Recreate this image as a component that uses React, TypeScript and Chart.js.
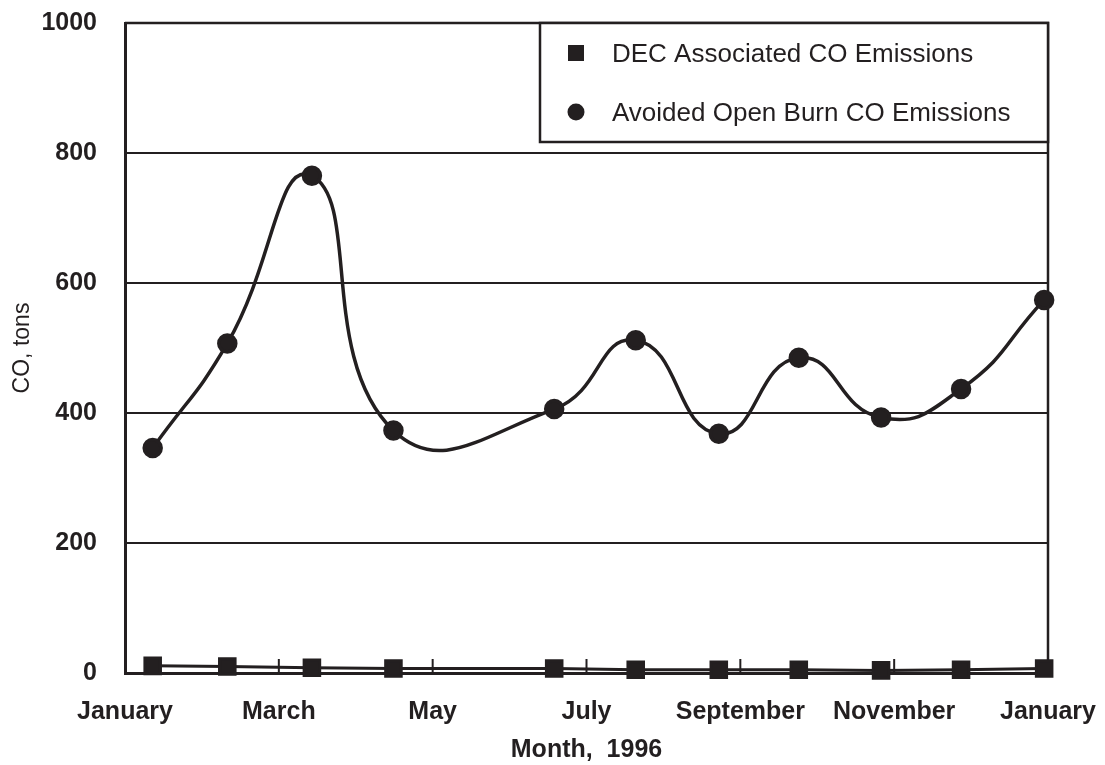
import { useEffect, useRef } from 'react';
import { Chart, registerables } from 'chart.js';

Chart.register(...registerables);

// ---- data ----
const monthTickLabels = ['January', 'March', 'May', 'July', 'September', 'November', 'January'];
const sampleMonths = [0.36, 1.33, 2.43, 3.49, 5.58, 6.64, 7.72, 8.76, 9.83, 10.87, 11.95];
const decEmissions = [11, 10, 8, 7, 7, 5, 5, 5, 4, 5, 7];
const openBurnEmissions = [346, 507, 765, 373, 406, 512, 368, 485, 393, 437, 574];
const seriesNames = ['DEC Associated CO Emissions', 'Avoided Open Burn CO Emissions'];
const xAxisTitle = 'Month,  1996';
const yAxisTitle = 'CO, tons';

const INK = '#231f20';
const FONT = '"Liberation Sans", Arial, Helvetica, sans-serif';

const framePlugin = {
  id: 'frame',
  beforeDatasetsDraw(chart: any) {
    const { ctx, chartArea } = chart;
    ctx.save();
    ctx.strokeStyle = INK;
    ctx.lineWidth = 2.5;
    ctx.beginPath();
    ctx.moveTo(chartArea.left, chartArea.top);
    ctx.lineTo(chartArea.right, chartArea.top);
    ctx.lineTo(chartArea.right, chartArea.bottom);
    ctx.stroke();
    // inward tick marks on x axis
    const xs = chart.scales.x;
    ctx.lineWidth = 2;
    xs.ticks.forEach((t: any) => {
      const px = xs.getPixelForValue(t.value);
      ctx.beginPath();
      ctx.moveTo(px, chartArea.bottom);
      ctx.lineTo(px, chartArea.bottom - 14);
      ctx.stroke();
    });
    ctx.restore();
  },
};

const legendBoxPlugin = {
  id: 'legendBox',
  afterDraw(chart: any) {
    const { ctx, chartArea } = chart;
    const w = 508;
    const h = 119;
    const x0 = chartArea.right - w;
    const y0 = chartArea.top;
    ctx.save();
    ctx.fillStyle = '#ffffff';
    ctx.fillRect(x0, y0, w, h);
    ctx.strokeStyle = INK;
    ctx.lineWidth = 2.5;
    ctx.strokeRect(x0, y0, w, h);
    const rows = [30, 89];
    chart.data.datasets.forEach((ds: any, i: number) => {
      const cy = y0 + rows[i];
      ctx.fillStyle = INK;
      if (ds.pointStyle === 'rect') {
        ctx.fillRect(x0 + 28, cy - 8, 16, 16);
      } else {
        ctx.beginPath();
        ctx.arc(x0 + 36, cy, 8.5, 0, Math.PI * 2);
        ctx.fill();
      }
      ctx.font = `26px ${FONT}`;
      ctx.textBaseline = 'middle';
      ctx.textAlign = 'left';
      ctx.fillText(ds.label, x0 + 72, cy + 2);
    });
    ctx.restore();
  },
};

export default function App() {
  const canvasRef = useRef<HTMLCanvasElement | null>(null);

  useEffect(() => {
    if (!canvasRef.current) return;
    const chart = new Chart(canvasRef.current, {
      type: 'line',
      data: {
        datasets: [
          {
            label: seriesNames[0],
            data: sampleMonths.map((m, i) => ({ x: m, y: decEmissions[i] })),
            borderColor: INK,
            backgroundColor: INK,
            borderWidth: 3,
            pointStyle: 'rect',
            pointRadius: 11,
            pointBackgroundColor: INK,
            pointBorderColor: INK,
            tension: 0,
            clip: false,
          } as any,
          {
            label: seriesNames[1],
            data: sampleMonths.map((m, i) => ({ x: m, y: openBurnEmissions[i] })),
            borderColor: INK,
            backgroundColor: INK,
            borderWidth: 3.5,
            pointStyle: 'circle',
            pointRadius: 8.5,
            pointBackgroundColor: INK,
            pointBorderColor: INK,
            tension: 0.5,
            clip: false,
          } as any,
        ],
      },
      options: {
        responsive: false,
        devicePixelRatio: 1,
        animation: false,
        layout: { autoPadding: false, padding: { left: 0, right: 57, top: 23, bottom: 0 } },
        plugins: {
          legend: { display: false },
          tooltip: { enabled: false },
        },
        scales: {
          x: {
            type: 'linear',
            min: 0,
            max: 12,
            ticks: {
              stepSize: 2,
              autoSkip: false,
              maxRotation: 0,
              padding: 24,
              color: INK,
              font: { family: FONT, size: 25, weight: 'bold' },
              callback: (v: any) => monthTickLabels[Math.round(Number(v) / 2)],
            },
            grid: { display: true, drawOnChartArea: false, drawTicks: false },
            border: { display: true, color: INK, width: 3 },
            title: {
              display: true,
              text: xAxisTitle,
              color: INK,
              font: { family: FONT, size: 25, weight: 'bold' },
              padding: { top: 0, bottom: 0 },
            },
            afterFit: (s: any) => {
              s.height = 92;
              s.paddingLeft = 0;
              s.paddingRight = 0;
            },
          },
          y: {
            type: 'linear',
            min: 0,
            max: 1000,
            ticks: {
              stepSize: 200,
              padding: 28,
              color: INK,
              font: { family: FONT, size: 25, weight: 'bold' },
              callback: (v: any) => String(v),
            },
            grid: { color: INK, lineWidth: 2, drawTicks: false },
            border: { display: true, color: INK, width: 3 },
            title: {
              display: true,
              text: yAxisTitle,
              color: INK,
              font: { family: FONT, size: 23, weight: 'normal' },
              padding: { top: 9, bottom: 0 },
            },
            afterFit: (s: any) => {
              s.width = 125;
              s.paddingTop = 0;
              s.paddingBottom = 0;
            },
          },
        },
      } as any,
      plugins: [framePlugin, legendBoxPlugin],
    });
    return () => chart.destroy();
  }, []);

  return (
    <div style={{ position: 'fixed', left: 0, top: 0, width: 1105, height: 765, background: '#ffffff' }}>
      <canvas ref={canvasRef} width={1105} height={765} style={{ display: 'block' }} />
    </div>
  );
}
